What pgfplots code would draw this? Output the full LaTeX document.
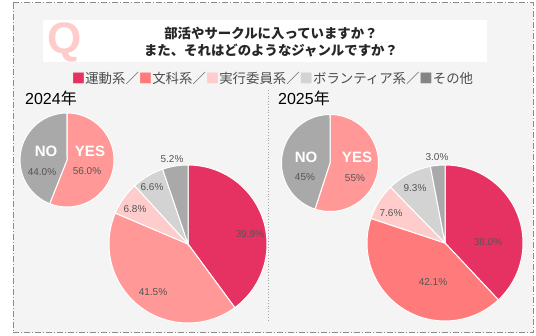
\documentclass[border=0pt]{standalone}
\usepackage{pgfplots}
\pgfplotsset{compat=1.18}
\usepackage{fontspec}
\setmainfont{Liberation Sans}
\newfontfamily\jp{Noto Sans CJK JP}
\definecolor{bgc}{HTML}{F4F4F4}
\definecolor{cSport}{HTML}{E63262}
\definecolor{cCult}{HTML}{FF9896}
\definecolor{cCultB}{HTML}{FF7B7B}
\definecolor{cComm}{HTML}{FFCCCC}
\definecolor{cVol}{HTML}{D3D3D3}
\definecolor{cOther}{HTML}{A9A9A9}
\definecolor{cOtherL}{HTML}{858585}
\definecolor{lbl}{HTML}{555555}
\definecolor{frame}{HTML}{8A8A8A}
\newcommand\pieslice[6]{% cx cy r start value color
  \addplot[fill=#6, draw=white, line width=1pt, domain={3.6*#4}:{3.6*(#4+#5)}, samples=60]
    ({#1+#3*sin(x)},{#2-#3*cos(x)}) -- (axis cs:#1,#2) -- cycle;}
\begin{document}
\begin{tikzpicture}
\begin{axis}[width=536pt,height=336pt,scale only axis,
  xmin=0,xmax=536,ymin=0,ymax=336,y dir=reverse,hide axis,clip=false]
\path (axis cs:0,0) rectangle (axis cs:536,336);
% background and frame
\fill[bgc] (axis cs:13,3) rectangle (axis cs:533,333);
\draw[frame, line width=1pt, dash pattern=on 6pt off 2pt on 1pt off 2pt] (axis cs:13,3) rectangle (axis cs:533,333);
% title box
\fill[white] (axis cs:43,20) rectangle (axis cs:487,62);
\node[text=cComm, font=\fontsize{44}{44}\selectfont\bfseries] at (axis cs:65,42) {Q};
\node[text=black!85, font=\jp\bfseries\fontsize{13.4}{16.5}\selectfont, align=center] at (axis cs:271,42)
  {部活やサークルに入っていますか？\\また、それはどのようなジャンルですか？};
% legend
\node[text=black!70, font=\jp\fontsize{13.4}{14}\selectfont, inner sep=0pt] at (axis cs:272.5,78)
  {\textcolor{cSport}{■}運動系／\textcolor{cCultB}{■}文科系／\textcolor{cComm}{■}実行委員系／\textcolor{cVol}{■}ボランティア系／\textcolor{cOtherL}{■}その他};
% divider
\draw[black!35, dotted, line width=0.8pt] (axis cs:268,90) -- (axis cs:268,322);
% year labels
\node[anchor=west, inner sep=0pt, font=\fontsize{16}{16}\selectfont] at (axis cs:25,98) {2024{\jp 年}};
\node[anchor=west, inner sep=0pt, font=\fontsize{16}{16}\selectfont] at (axis cs:278,98) {2025{\jp 年}};

% ---- 2024 small pie (YES 56.0, NO 44.0)
\pieslice{67}{160}{47}{0}{56.0}{cCult}
\pieslice{67}{160}{47}{56.0}{44.0}{cOther}
% ---- 2024 big pie: 39.9, 41.5, 6.8, 6.6, 5.2
\pieslice{188}{244}{79}{0}{39.9}{cSport}
\pieslice{188}{244}{79}{39.9}{41.5}{cCult}
\pieslice{188}{244}{79}{81.4}{6.8}{cComm}
\pieslice{188}{244}{79}{88.2}{6.6}{cVol}
\pieslice{188}{244}{79}{94.8}{5.2}{cOther}
% ---- 2025 small pie (YES 55, NO 45)
\pieslice{330}{163}{48.5}{0}{55}{cCult}
\pieslice{330}{163}{48.5}{55}{45}{cOther}
% ---- 2025 big pie: 38.0, 42.1, 7.6, 9.3, 3.0
\pieslice{445}{243}{78}{0}{38.0}{cSport}
\pieslice{445}{243}{78}{38.0}{42.1}{cCultB}
\pieslice{445}{243}{78}{80.1}{7.6}{cComm}
\pieslice{445}{243}{78}{87.7}{9.3}{cVol}
\pieslice{445}{243}{78}{97.0}{3.0}{cOther}

% labels
\tikzset{pl/.style={text=lbl, font=\fontsize{10}{10}\selectfont, inner sep=0pt},
         yn/.style={text=white, font=\fontsize{15}{15}\selectfont\bfseries, inner sep=0pt}}
\node[yn] at (axis cs:46,151) {NO};
\node[yn] at (axis cs:90,151) {YES};
\node[pl] at (axis cs:42,172) {44.0\%};
\node[pl] at (axis cs:87,171) {56.0\%};
\node[pl] at (axis cs:250,234) {39.9\%};
\node[pl] at (axis cs:153,292) {41.5\%};
\node[pl] at (axis cs:135,209) {6.8\%};
\node[pl] at (axis cs:152,187) {6.6\%};
\node[pl] at (axis cs:172,159) {5.2\%};
\node[yn] at (axis cs:306,157) {NO};
\node[yn] at (axis cs:357,157) {YES};
\node[pl] at (axis cs:305,177) {45\%};
\node[pl] at (axis cs:355,178) {55\%};
\node[pl] at (axis cs:488,242) {38.0\%};
\node[pl] at (axis cs:433,282) {42.1\%};
\node[pl] at (axis cs:391,213) {7.6\%};
\node[pl] at (axis cs:415,188) {9.3\%};
\node[pl] at (axis cs:437,157) {3.0\%};
\end{axis}
\end{tikzpicture}
\end{document}
